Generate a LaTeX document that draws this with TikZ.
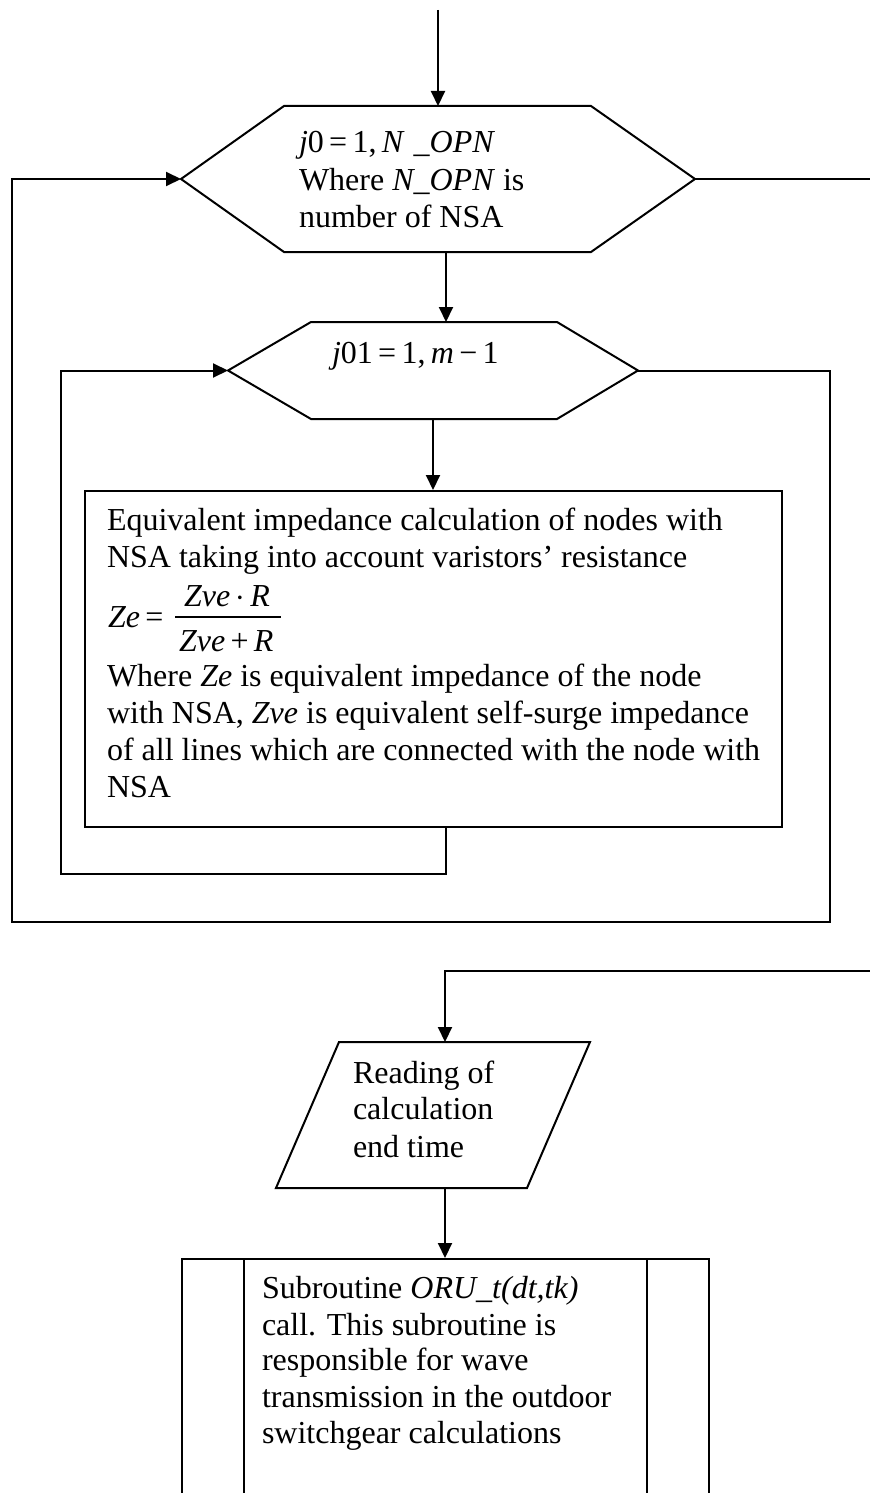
\documentclass[tikz,border=0pt]{standalone}
\usepackage{fontspec}
\setmainfont{Liberation Serif}
\usetikzlibrary{arrows.meta}
\begin{document}
\begin{tikzpicture}[x=0.5pt,y=-0.5pt, line width=1pt,
  >={Triangle[length=7.5pt,width=7pt]},
  ln/.style={anchor=base west, inner sep=0pt, font=\fontsize{16}{18.5}\selectfont},
  shp/.style={draw=none, inner sep=0pt, rectangle},
  boxst/.style={draw, inner sep=0pt, rectangle}]
\useasboundingbox (0,0) rectangle (870,1493);
\clip (0,0) rectangle (870,1493);

% ---------- shapes ----------
\node[shp, minimum width=256pt, minimum height=72pt] (h1) at (438,179) {};
\draw (h1.west) -- ([xshift=51.5pt]h1.north west) -- ([xshift=-52pt]h1.north east) -- (h1.east)
  -- ([xshift=-52pt]h1.south east) -- ([xshift=51.5pt]h1.south west) -- cycle;

\node[shp, minimum width=204pt, minimum height=47.5pt] (h2) at (433,370.5) {};
\draw (h2.west) -- ([xshift=41.5pt]h2.north west) -- ([xshift=-40.5pt]h2.north east) -- (h2.east)
  -- ([xshift=-40.5pt]h2.south east) -- ([xshift=41.5pt]h2.south west) -- cycle;

\node[boxst, minimum width=348.5pt, minimum height=168pt] (box) at (433.5,659) {};

\node[shp, minimum width=156pt, minimum height=72pt] (para) at (433,1115) {};
\draw (para.south west) -- ([xshift=31.5pt]para.north west) -- (para.north east)
  -- ([xshift=-31.5pt]para.south east) -- cycle;

\node[boxst, minimum width=263.5pt, minimum height=140pt] (sub) at (445.5,1399) {};
\draw ([xshift=31.5pt]sub.north west) -- ([xshift=31.5pt]sub.south west);
\draw ([xshift=-31.5pt]sub.north east) -- ([xshift=-31.5pt]sub.south east);

% ---------- coordinates ----------
\coordinate (top) at (438,10);
\coordinate (e1) at (870,179);
\coordinate (il) at (61,874);
\coordinate (ol) at (830,922);
\coordinate (or) at (12,922);
\coordinate (e2) at (870,971);
\coordinate (c2) at (445,971);

% ---------- connectors ----------
\draw[->] (top) -- (h1.north);
\draw (h1.east) -- (e1);
\draw[->] ([xshift=4pt]h1.south) -- ([xshift=4pt]h1.south |- h2.north);
\draw[->] (h2.south) -- (h2.south |- box.north);
\draw[->] ([xshift=6.25pt]box.south) |- (il) |- (h2.west);
\draw[->] (h2.east) -| (ol) -- (or) |- (h1.west);
\draw[->] (e2) -- (c2) -- (c2 |- para.north);
\draw[->] (c2 |- para.south) -- (c2 |- sub.north);

% ---------- texts ----------
\node[ln] (t11) at (298,152) {\textit{j}0\,=\,1,\,\textit{N}\;\_\textit{OPN}};
\node[ln] (t12) at (298,190) {Where \textit{N\_OPN} is};
\node[ln] (t13) at (298,227) {number of NSA};

\node[ln] (t21) at (331,363) {\textit{j}01\,=\,1,\,\textit{m}\,−\,1};

\node[ln] (t31) at (106,530) {Equivalent impedance calculation of nodes with};
\node[ln] (t32) at (106,567) {NSA taking into account varistors’ resistance};
\node[ln] (ze) at (107,627) {\textit{Ze}\,=};
\node[ln] (num) at (183,606) {\textit{Zve}\,$\cdot$\,\textit{R}};
\node[ln] (den) at (178,651) {\textit{Zve}\,+\,\textit{R}};
\coordinate (barl) at (175,617);
\coordinate (barr) at (281,617);
\draw[line width=0.6pt] (barl) -- (barr);
\node[ln] (t34) at (106,686) {Where \textit{Ze} is equivalent impedance of the node};
\node[ln] (t35) at (106,723) {with NSA, \textit{Zve} is equivalent self-surge impedance};
\node[ln] (t36) at (106,760) {of all lines which are connected with the node with};
\node[ln] (t37) at (106,797) {NSA};

\node[ln] (t41) at (352,1083) {Reading of};
\node[ln] (t42) at (352,1119) {calculation};
\node[ln] (t43) at (352,1157) {end time};

\node[ln] (t51) at (261,1298) {Subroutine \textit{ORU\_t(dt,tk)}};
\node[ln] (t52) at (261,1335) {call. This subroutine is};
\node[ln] (t53) at (261,1370) {responsible for wave};
\node[ln] (t54) at (261,1407) {transmission in the outdoor};
\node[ln] (t55) at (261,1443) {switchgear calculations};
\end{tikzpicture}
\end{document}
